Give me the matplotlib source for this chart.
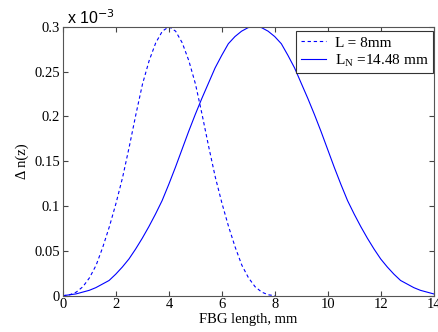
import matplotlib
matplotlib.use('Agg')
import matplotlib.pyplot as plt
import numpy as np

# Grating index profile, values in units of 1e-3
x_short = np.arange(0, 8.01, 0.25)
dn_short = [0, 0.001, 0.004, 0.010, 0.020, 0.034, 0.054, 0.077, 0.103,
            0.132, 0.166, 0.202, 0.236, 0.262, 0.282, 0.295, 0.300,
            0.295, 0.282, 0.262, 0.236, 0.202, 0.166, 0.132, 0.103,
            0.077, 0.054, 0.034, 0.020, 0.010, 0.004, 0.001, 0]

x_long = [0] + list(np.arange(0.24, 14.25, 0.25)) + [14.48]
dn_long = [0, 0.001, 0.002, 0.004, 0.006, 0.009, 0.013, 0.017, 0.024,
           0.032, 0.041, 0.052, 0.064, 0.077, 0.091, 0.106, 0.124, 0.143,
           0.163, 0.183, 0.202, 0.220, 0.237, 0.254, 0.268, 0.281, 0.289,
           0.295, 0.299, 0.300,
           0.299, 0.295, 0.289, 0.281, 0.268, 0.254, 0.237, 0.220, 0.202,
           0.183, 0.163, 0.143, 0.124, 0.106, 0.091, 0.077, 0.064, 0.052,
           0.041, 0.032, 0.024, 0.017, 0.013, 0.009, 0.006, 0.004, 0.002,
           0.001, 0]

xticks = [0, 2, 4, 6, 8, 10, 12, 14]
yticks = [0, 0.05, 0.1, 0.15, 0.2, 0.25, 0.3]
ytick_labels = ['0', '0.05', '0.1', '0.15', '0.2', '0.25', '0.3']

serif = 'Liberation Serif'
sans = 'Liberation Sans'


def main():
    plt.rcParams['mathtext.fontset'] = 'custom'
    plt.rcParams['mathtext.rm'] = serif

    fig = plt.figure(figsize=(4.39, 3.32), dpi=100)
    ax = fig.add_axes([0.1435, 0.1093, 0.845, 0.8103])

    ax.plot(x_short, dn_short, '--', color='#0000ff', lw=0.8,
            dashes=(3, 2.5), label='L = 8mm')
    ax.plot(x_long, dn_long, '-', color='#0000ff', lw=0.8,
            label='L$_\\mathrm{N}$ =14.48 mm')

    ax.set_xlim(0, 14)
    ax.set_ylim(0, 0.3)
    ax.set_xticks(xticks)
    ax.set_yticks(yticks)
    ax.set_xticklabels([str(t) for t in xticks], family=serif, fontsize=10.5)
    ax.set_yticklabels(ytick_labels, family=serif, fontsize=10.5)
    ax.tick_params(direction='in', top=True, right=True, length=3.5,
                   width=0.8, color='#444444', pad=2)
    for s in ax.spines.values():
        s.set_color('#555555')
        s.set_linewidth(0.8)

    ax.set_xlabel('FBG length, mm', family=serif, fontsize=10.5, labelpad=1)
    ax.set_ylabel('\u0394 n(z)', family=serif, fontsize=10.5, labelpad=4)

    # MATLAB style exponent above the axis
    ax.text(0.012, 1.0, 'x 10$^{\\mathsf{-3}}$', transform=ax.transAxes,
            family=sans, fontsize=11.5, va='bottom', ha='left')

    leg = ax.legend(loc='upper right', bbox_to_anchor=(1.0, 0.985),
                    prop={'family': serif, 'size': 11},
                    fancybox=False, framealpha=1, edgecolor='#333333',
                    handlelength=1.65, handletextpad=0.6, borderpad=0.3,
                    labelspacing=0.15, borderaxespad=0.05)
    leg.get_frame().set_linewidth(0.8)

    plt.savefig('out.png', dpi=100)


if __name__ == "__main__":
    main()
